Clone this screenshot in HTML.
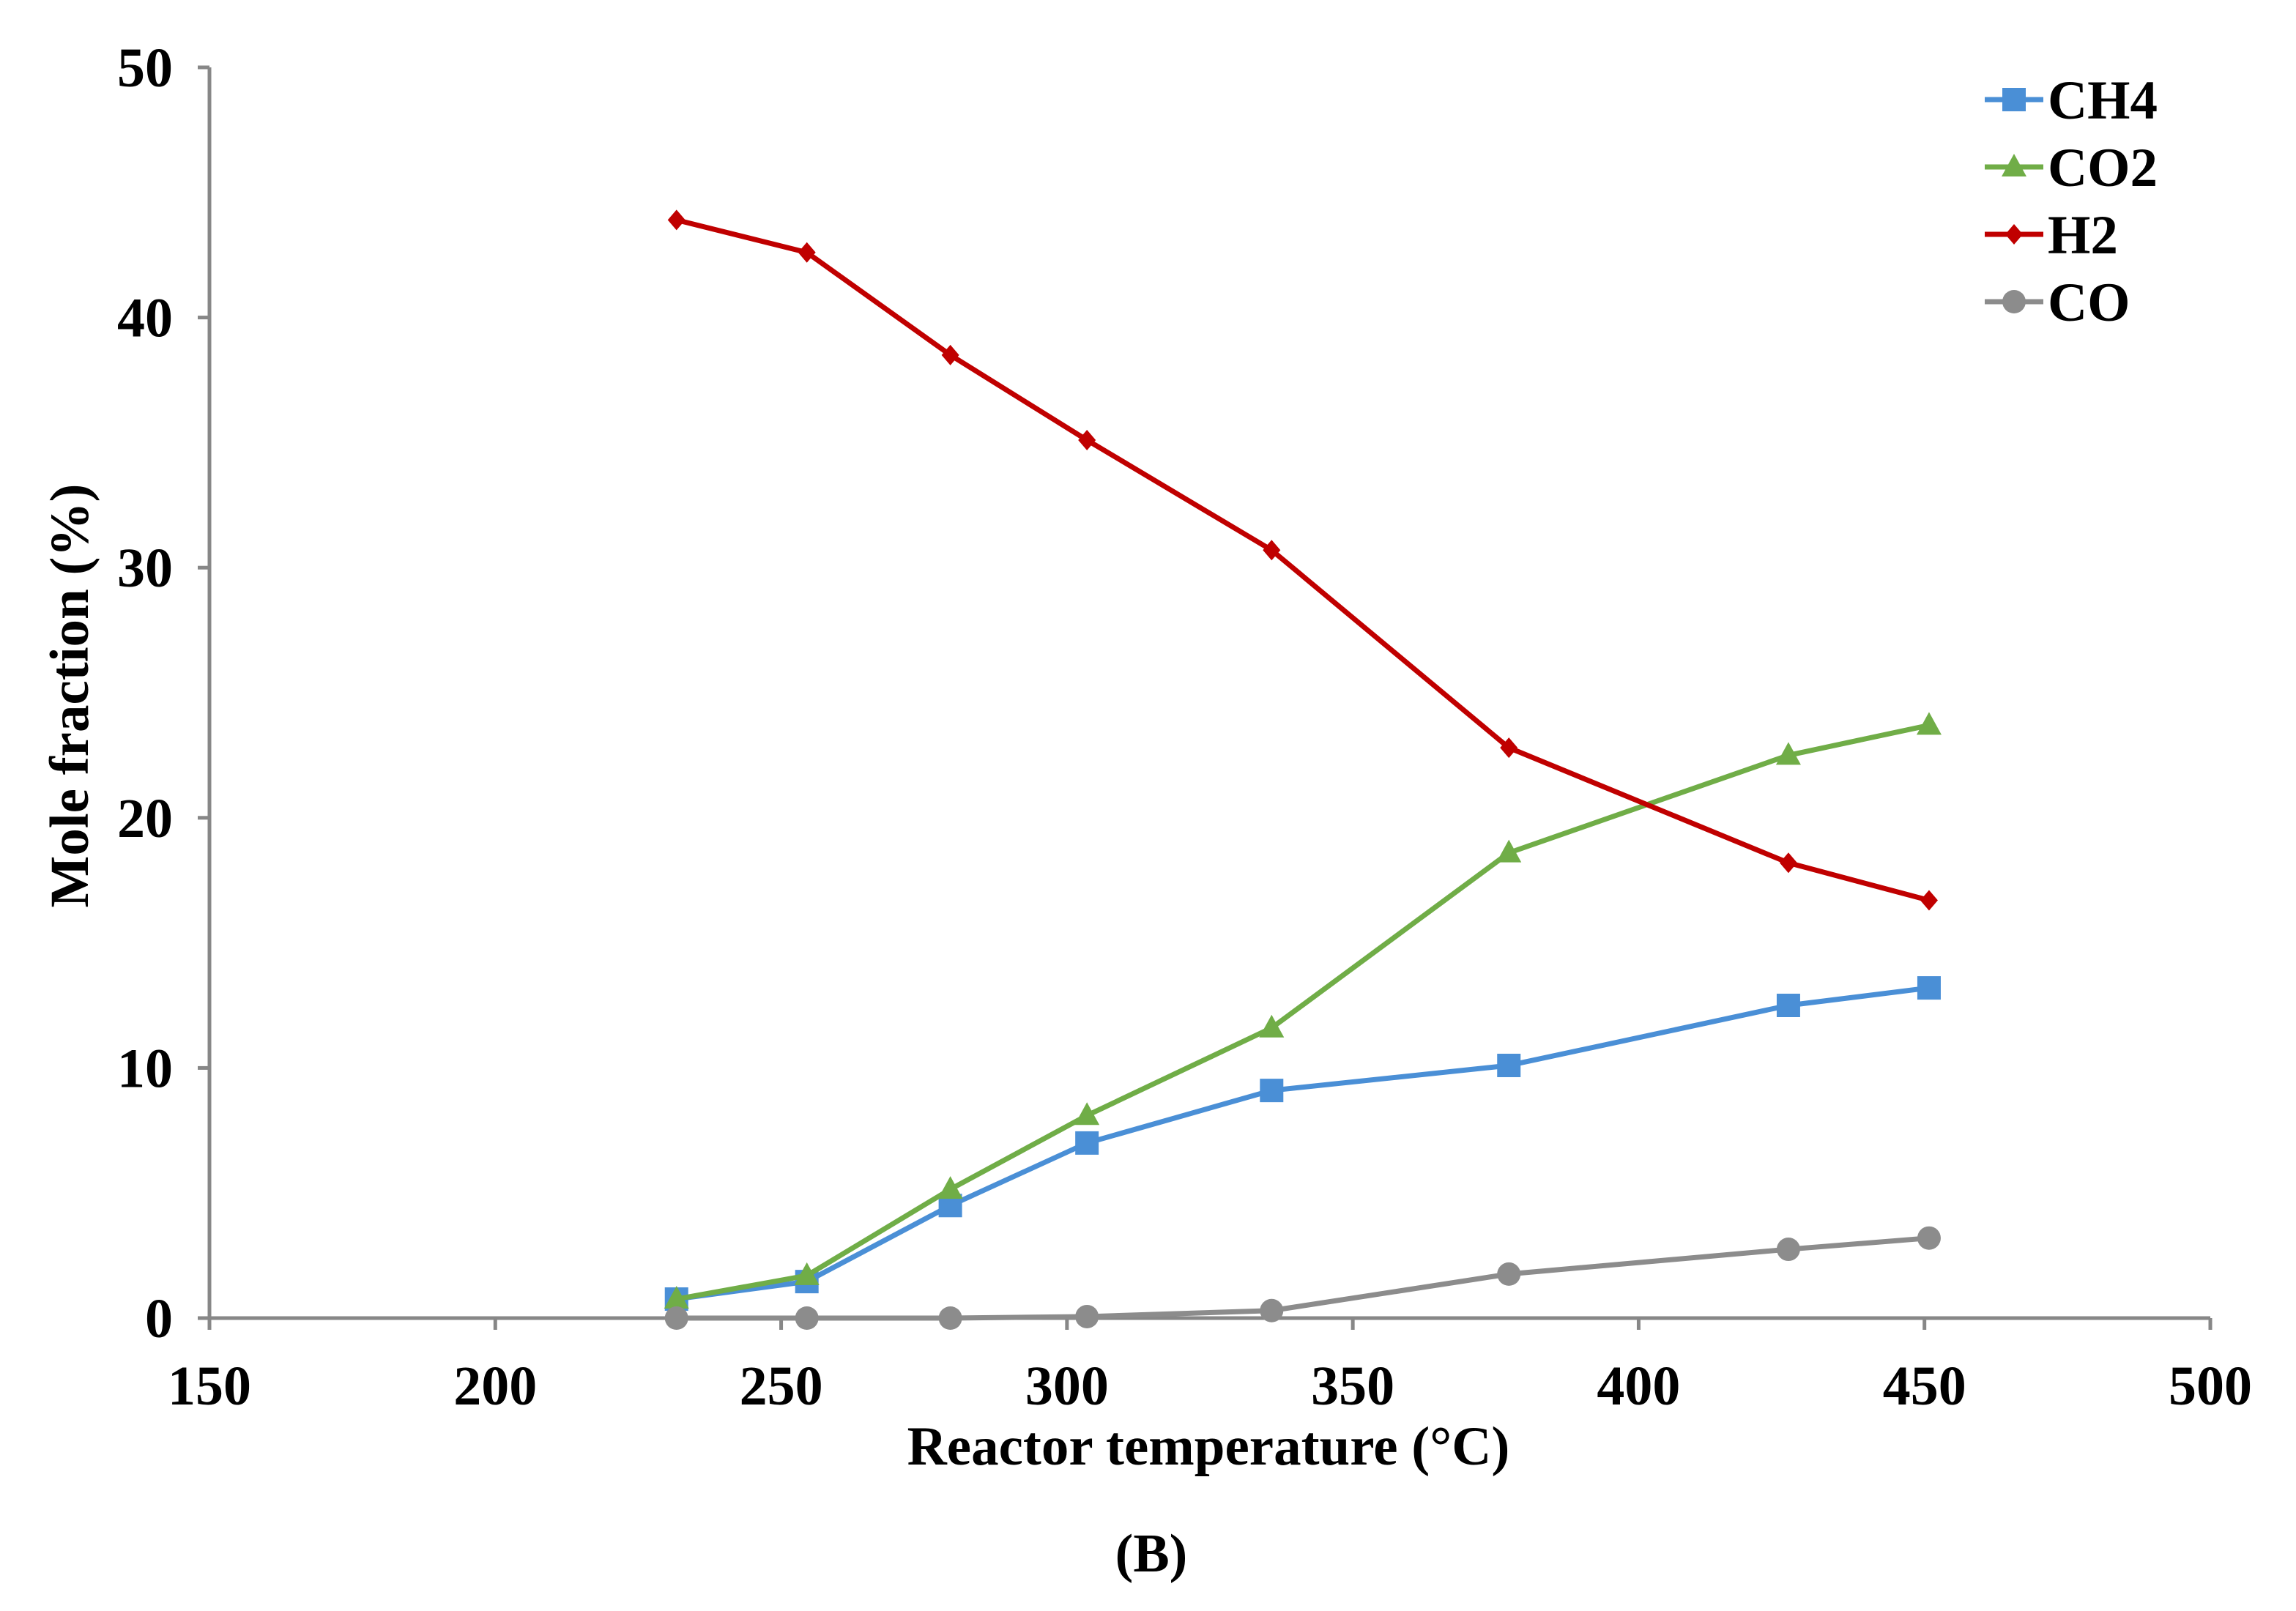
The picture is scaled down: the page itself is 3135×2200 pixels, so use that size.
<!DOCTYPE html>
<html><head><meta charset="utf-8"><style>
html,body{margin:0;padding:0;background:#fff;}
svg{display:block;font-family:"Liberation Serif",serif;font-weight:bold;}
</style></head><body>
<svg id="chart" width="3135" height="2200" viewBox="0 0 3135 2200">
<g id="axes"></g><g id="series"></g><g id="legend"></g>
<text x="1572" y="2146" font-size="74" text-anchor="middle">(B)</text>
</svg>
<script>
const temps = [231.7, 254.5, 279.6, 303.5, 335.8, 377.3, 426.2, 450.8];
const ch4 = [0.76, 1.46, 4.5, 7.0, 9.1, 10.1, 12.5, 13.2];
const co2 = [0.76, 1.7, 5.15, 8.1, 11.6, 18.6, 22.5, 23.7];
const h2 = [43.9, 42.6, 38.5, 35.1, 30.7, 22.8, 18.2, 16.7];
const co = [0, 0, 0, 0.06, 0.3, 1.76, 2.75, 3.2];
const xTicks = [150, 200, 250, 300, 350, 400, 450, 500];
const yTicks = [0, 10, 20, 30, 40, 50];
const seriesNames = ["CH4", "CO2", "H2", "CO"];

const NS = "http://www.w3.org/2000/svg";
const X0 = 286, X1 = 3018, Y0 = 1800, Y1 = 92;
function sx(v){ return X0 + (v - 150) / 350 * (X1 - X0); }
function sy(v){ return Y0 - v / 50 * (Y0 - Y1); }
function mk(tag, attrs, parent){ const e = document.createElementNS(NS, tag); for (const k in attrs) e.setAttribute(k, attrs[k]); parent.appendChild(e); return e; }

const axes = document.getElementById("axes");
const axc = "#878787";
let yl = mk("line", {x1:X0, y1:Y1, x2:X0, y2:Y0+16, stroke:axc, "stroke-width":5}, axes);


let xl = mk("line", {x1:X0-16, y1:Y0, x2:X1, y2:Y0, stroke:axc, "stroke-width":5}, axes);


yTicks.forEach(v => {
  mk("line", {x1:X0-16, y1:sy(v), x2:X0, y2:sy(v), stroke:axc, "stroke-width":5}, axes);
  const t = mk("text", {x:X0-50, y:sy(v)+26, "font-size":76, "text-anchor":"end"}, axes);
  t.textContent = v;
  
  
});
xTicks.forEach(v => {
  mk("line", {x1:sx(v), y1:Y0, x2:sx(v), y2:Y0+16, stroke:axc, "stroke-width":5}, axes);
  const t = mk("text", {x:sx(v), y:Y0+118, "font-size":76, "text-anchor":"middle"}, axes);
  t.textContent = v;
  
  
});
let xt = mk("text", {x:1650, y:2000, "font-size":75, "text-anchor":"middle"}, axes);
xt.textContent = "Reactor temperature (°C)";


let yt = mk("text", {x:0, y:0, "font-size":75, "text-anchor":"middle", transform:"translate(120,950) rotate(-90)"}, axes);
yt.textContent = "Mole fraction (%)";



const colors = ["#4a8fd6", "#70ad47", "#c00000", "#8c8c8c"];
const marks = ["square", "triangle", "diamond", "circle"];
function marker(type, x, y, color, parent){
  if (type === "square") return mk("rect", {x:x-16, y:y-16, width:32, height:32, fill:color}, parent);
  if (type === "triangle") return mk("polygon", {points:`${x},${y-18} ${x+17},${y+13} ${x-17},${y+13}`, fill:color}, parent);
  if (type === "diamond") return mk("polygon", {points:`${x},${y-14} ${x+12},${y} ${x},${y+14} ${x-12},${y}`, fill:color}, parent);
  return mk("circle", {cx:x, cy:y, r:16, fill:color}, parent);
}
const data = [ch4, co2, h2, co];
const sg = document.getElementById("series");
data.forEach((vals, i) => {
  const g = mk("g", {}, sg);
  
  
  const pts = vals.map((v, j) => sx(temps[j]) + "," + sy(v)).join(" ");
  const pl = mk("polyline", {points:pts, fill:"none", stroke:colors[i], "stroke-width":7, "stroke-linejoin":"round"}, g);
  
  
  vals.forEach((v, j) => {
    const m = marker(marks[i], sx(temps[j]), sy(v), colors[i], g);
    
    
  });
});
const lg = document.getElementById("legend");
seriesNames.forEach((n, i) => {
  const y = 136 + i * 92;
  const g = mk("g", {}, lg);
  
  
  mk("line", {x1:2710, y1:y, x2:2790, y2:y, stroke:colors[i], "stroke-width":7}, g);
  marker(marks[i], 2750, y, colors[i], g);
  const t = mk("text", {x:2796, y:y+26, "font-size":75}, g);
  t.textContent = n;
});
</script>
</body></html>
